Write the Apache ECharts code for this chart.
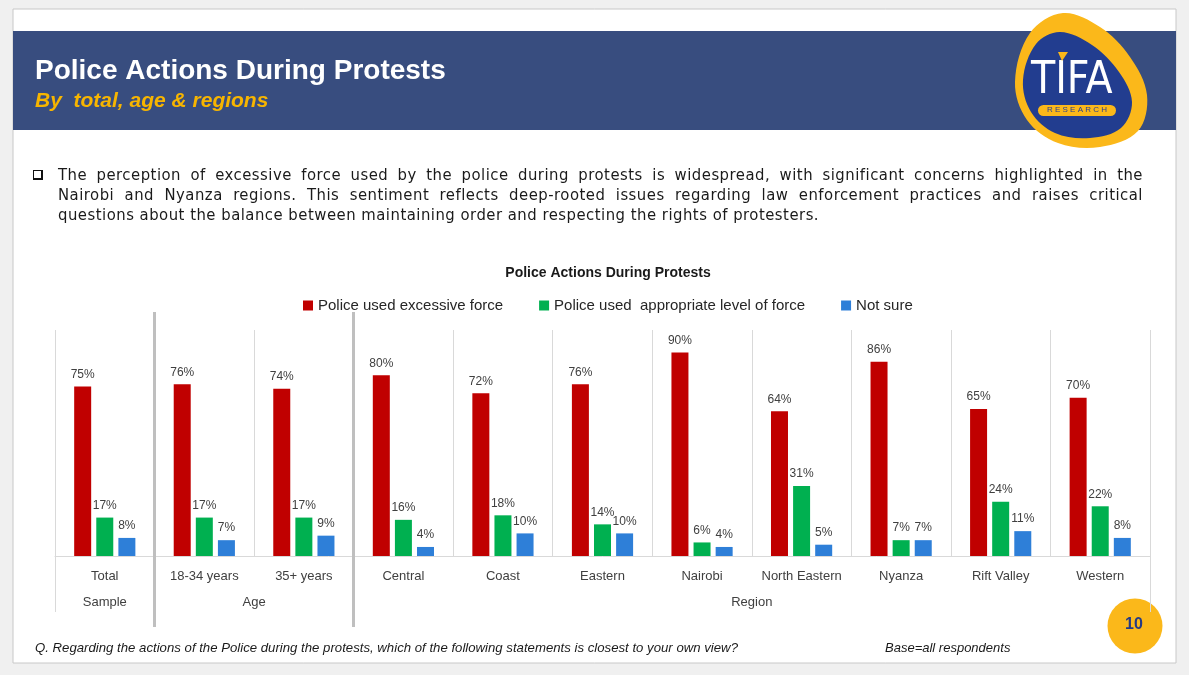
<!DOCTYPE html>
<html>
<head>
<meta charset="utf-8">
<script src="https://cdn.jsdelivr.net/npm/echarts@6/dist/echarts.min.js"></script>
<style>
  html, body { margin: 0; padding: 0; background: #f0f0f0; }
  #wrap { position: relative; width: 1189px; height: 675px; overflow: hidden; }
  #chart { position: absolute; left: 0; top: 0; width: 1189px; height: 675px; }
  #para { position: absolute; left: 58px; top: 165px; width: 1085px; font-family: "DejaVu Sans Condensed", "Liberation Sans Narrow", sans-serif; font-size: 16.5px; letter-spacing: 0.5px; line-height: 20px; color: #1a1a1a; z-index: 2; }
  #para .j { text-align: justify; text-align-last: justify; }
  #bullet { position: absolute; left: 33px; top: 170px; width: 7px; height: 7px; border: 1.5px solid #111; border-right-width: 2.5px; border-bottom-width: 2.5px; z-index: 2; }
</style>
</head>
<body>
<div id="wrap">
  <div id="chart"></div>
  <div id="bullet"></div>
  <div id="para">
    <div class="j">The perception of excessive force used by the police during protests is widespread, with significant concerns highlighted in the</div>
    <div class="j">Nairobi and Nyanza regions. This sentiment reflects deep-rooted issues regarding law enforcement practices and raises critical</div>
    <div>questions about the balance between maintaining order and respecting the rights of protesters.</div>
  </div>
</div>
<script>
const categories = ['Total', '18-34 years', '35+ years', 'Central', 'Coast', 'Eastern', 'Nairobi', 'North Eastern', 'Nyanza', 'Rift Valley', 'Western'];
const excessiveForce = [75, 76, 74, 80, 72, 76, 90, 64, 86, 65, 70];
const appropriateForce = [17, 17, 17, 16, 18, 14, 6, 31, 7, 24, 22];
const notSure = [8, 7, 9, 4, 10, 10, 4, 5, 7, 11, 8];
const seriesNames = ['Police used excessive force', 'Police used  appropriate level of force', 'Not sure'];
const groupLabels = [{ at: 0.5, text: 'Sample' }, { at: 2, text: 'Age' }, { at: 7, text: 'Region' }];
const groupSeparators = [1, 3];
const edgeLines = [0, 11];

const colors = ['#c00000', '#00b050', '#2e7fd8'];
const chartFont = '"Liberation Sans", Arial, sans-serif';
const chart = echarts.init(document.getElementById('chart'));

function barSeries(name, data, color) {
  return {
    name: name, type: 'bar', data: data, xAxisIndex: 0, yAxisIndex: 0,
    barWidth: 17, barGap: '30%',
    itemStyle: { color: color },
    label: { show: true, position: 'top', distance: 6, formatter: '{c}%', color: '#404040', fontSize: 12, fontFamily: chartFont },
    emphasis: { disabled: true }
  };
}

const option = {
  animation: false,
  backgroundColor: '#f0f0f0',
  textStyle: { fontFamily: chartFont },
  title: {
    text: 'Police Actions During Protests',
    left: 603, top: 261, textAlign: 'center',
    textStyle: { fontSize: 14, fontWeight: 'bold', color: '#1a1a1a', fontFamily: chartFont }
  },
  legend: {
    left: 298, top: 293, itemWidth: 10, itemHeight: 10, itemGap: 36,
    icon: 'rect',
    textStyle: { fontSize: 15, color: '#262626', fontFamily: chartFont },
    data: seriesNames
  },
  grid: [
    { left: 55, right: 39, top: 330, bottom: 119 },
    { left: 55, right: 39, top: 312, bottom: 48 }
  ],
  xAxis: [
    {
      type: 'category', data: categories, gridIndex: 0,
      axisLine: { lineStyle: { color: '#d9d9d9', width: 1 } },
      axisTick: { show: false },
      splitLine: { show: true, interval: 0, lineStyle: { color: '#d9d9d9', width: 1 } },
      axisLabel: { interval: 0, margin: 14, color: '#404040', fontSize: 13, fontFamily: chartFont }
    },
    {
      type: 'value', gridIndex: 0, min: 0, max: 11, interval: 0.5, position: 'bottom', offset: 30,
      axisLine: { show: false }, axisTick: { show: false }, splitLine: { show: false },
      axisLabel: {
        margin: 10, color: '#404040', fontSize: 13, fontFamily: chartFont, showMinLabel: true, showMaxLabel: true,
        formatter: function (v) {
          const g = groupLabels.find(function (x) { return Math.abs(x.at - v) < 1e-6; });
          return g ? g.text : '';
        }
      }
    },
    { type: 'value', gridIndex: 1, min: 0, max: 11, show: false }
  ],
  yAxis: [
    { type: 'value', gridIndex: 0, min: 0, max: 100, show: false },
    { type: 'value', gridIndex: 1, min: 0, max: 315, show: false }
  ],
  series: [
    barSeries(seriesNames[0], excessiveForce, colors[0]),
    barSeries(seriesNames[1], appropriateForce, colors[1]),
    barSeries(seriesNames[2], notSure, colors[2]),
    {
      type: 'line', xAxisIndex: 2, yAxisIndex: 1, data: [[0, 0]], showSymbol: false, symbol: 'none',
      lineStyle: { opacity: 0 }, silent: true, legendHoverLink: false,
      markLine: {
        silent: true, symbol: ['none', 'none'], label: { show: false },
        data: groupSeparators.map(function (x) {
          return [{ coord: [x, 0], lineStyle: { color: '#bfbfbf', width: 3, type: 'solid' } }, { coord: [x, 315] }];
        }).concat(edgeLines.map(function (x) {
          return [{ coord: [x, 15], lineStyle: { color: '#d9d9d9', width: 1, type: 'solid' } }, { coord: [x, 297] }];
        }))
      }
    }
  ],
  graphic: [
    { type: 'rect', z: -10, shape: { x: 13, y: 9, width: 1163, height: 654 }, style: { fill: '#ffffff', stroke: '#c8c8c8', lineWidth: 1 } },
    { type: 'rect', z: -9, shape: { x: 13, y: 31, width: 1163, height: 99 }, style: { fill: '#384d7f' } },
    { type: 'text', z: 5, x: 35, y: 57, style: { text: 'Police Actions During Protests', fill: '#ffffff', font: 'bold 28px "Liberation Sans", Arial, sans-serif' } },
    { type: 'text', z: 5, x: 35, y: 91, style: { text: 'By  total, age & regions', fill: '#f7b500', font: 'italic bold 21px "Liberation Sans", Arial, sans-serif' } },
    // logo
    { type: 'polygon', z: 5, shape: { smooth: 0.35, points: [[1063, 13], [1100, 27], [1130, 57], [1147, 95], [1138, 131], [1100, 147], [1058, 143], [1027, 120], [1015, 82], [1030, 33]] }, style: { fill: '#fbb81a' } },
    { type: 'polygon', z: 6, shape: { smooth: 0.35, points: [[1060, 32], [1092, 45], [1119, 72], [1132, 102], [1121, 128], [1090, 138], [1055, 133], [1031, 112], [1023, 80], [1036, 44]] }, style: { fill: '#223d8f' } },
    { type: 'text', z: 7, x: 1031, y: 60, style: { text: 'TIFA', fill: '#ffffff', font: '44px "DejaVu Sans Condensed", "Liberation Sans", sans-serif' } },
    { type: 'polygon', z: 8, shape: { points: [[1058, 52], [1068, 52], [1062, 61]] }, style: { fill: '#fbb81a' } },
    { type: 'rect', z: 7, shape: { x: 1038, y: 105, width: 78, height: 11, r: 5.5 }, style: { fill: '#fbb81a' } },
    { type: 'text', z: 8, x: 1047, y: 106, style: { text: 'R E S E A R C H', fill: '#2a3f8f', font: '8px "Liberation Sans", Arial, sans-serif' } },
    // page number
    { type: 'circle', z: 5, shape: { cx: 1135, cy: 626, r: 27.5 }, style: { fill: '#fbb81a' } },
    { type: 'text', z: 6, x: 1125, y: 617, style: { text: '10', fill: '#253a85', font: 'bold 16px "Liberation Sans", Arial, sans-serif' } },
    // footer
    { type: 'text', z: 5, x: 35, y: 642, style: { text: 'Q. Regarding the actions of the Police during the protests, which of the following statements is closest to your own view?', fill: '#1a1a1a', font: 'italic 13.2px "Liberation Sans", Arial, sans-serif' } },
    { type: 'text', z: 5, x: 885, y: 642, style: { text: 'Base=all respondents', fill: '#1a1a1a', font: 'italic 13px "Liberation Sans", Arial, sans-serif' } }
  ]
};
chart.setOption(option);
</script>
</body>
</html>
